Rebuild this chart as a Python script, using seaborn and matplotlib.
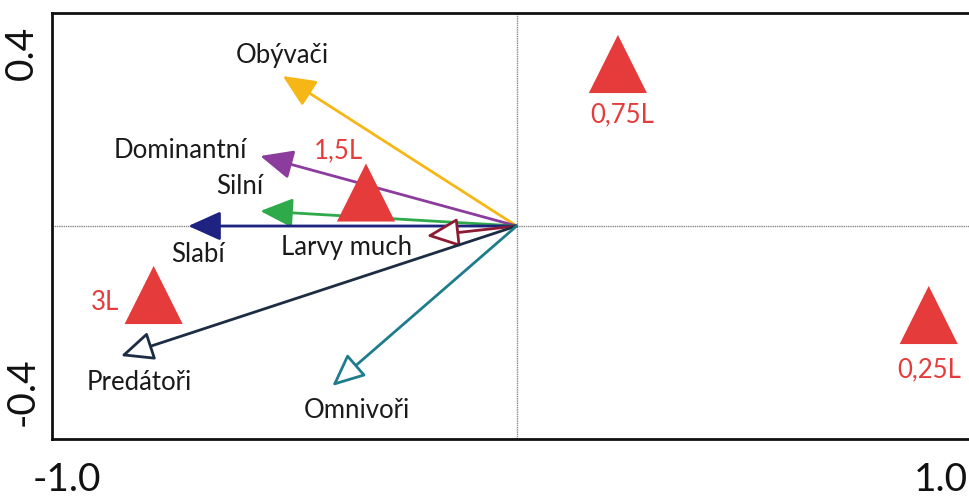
import matplotlib
matplotlib.use("Agg")
import matplotlib.pyplot as plt
import matplotlib.transforms as mtransforms
import seaborn as sns
import pandas as pd

# species-group vectors (arrow tips)
arrow_labels = ["Obývači", "Dominantní", "Silní", "Slabí", "Larvy much", "Predátoři", "Omnivoři"]
arrow_x = [-0.52, -0.57, -0.57, -0.73, -0.20, -0.88, -0.41]
arrow_y = [0.30, 0.14, 0.03, 0.0, -0.02, -0.26, -0.32]

# treatment centroids
treat_labels = ["1,5L", "3L", "0,75L", "0,25L"]
treat_x = [-0.335, -0.807, 0.225, 0.916]
treat_y = [0.067, -0.138, 0.324, -0.178]

arrow_colors = ["#F6B716", "#8B3C9C", "#2FAA4B", "#1E2382", "#8C1B33", "#1C2C42", "#1F7C8C"]
hollow = [False, False, False, False, True, True, True]
# label offsets in pixels from arrow tip: (dx, dy, ha)
arrow_text = [(0, 20, "center"), (-13, 5, "right"), (-21, 25, "center"), (10, -28, "center"),
              (-80, -12, "center"), (18, -27, "center"), (25, -24, "center")]
treat_text = [(-28, 42), (-49, -8), (4, -51), (0, -55)]

RED = "#E53B3B"

sns.set_theme(style="white")
plt.rcParams["font.family"] = ["Lato", "DejaVu Sans"]

fig = plt.figure(figsize=(9.7, 4.99), dpi=100)
ax = fig.add_axes([52 / 970, 60 / 499, 928 / 970, 426 / 499])

ax.axhline(0, color="#8a8a8a", lw=1.0, ls=(0, (1, 0.6)), zorder=1)
ax.axvline(0, color="#8a8a8a", lw=1.0, ls=(0, (1, 0.6)), zorder=1)

for lab, x, y, c, h, (dx, dy, ha) in zip(arrow_labels, arrow_x, arrow_y, arrow_colors, hollow, arrow_text):
    ax.annotate("", xy=(x, y), xytext=(0, 0),
                arrowprops=dict(arrowstyle="-|>,head_length=1.0,head_width=0.45",
                                mutation_scale=20, lw=2.0, ec=c,
                                fc="white" if h else c,
                                shrinkA=0, shrinkB=0),
                zorder=3)
    ax.annotate(lab, xy=(x, y), xytext=(dx, dy), textcoords="offset pixels",
                ha=ha, va="center", fontsize=18.5, color="#1a1a1a", zorder=5)

df = pd.DataFrame({"x": treat_x, "y": treat_y, "label": treat_labels})
sns.scatterplot(data=df, x="x", y="y", marker="^", s=1750, color=RED,
                edgecolor="none", ax=ax, zorder=4, legend=False)
for lab, x, y, (dx, dy) in zip(treat_labels, treat_x, treat_y, treat_text):
    ax.annotate(lab, xy=(x, y), xytext=(dx, dy), textcoords="offset pixels",
                ha="center", va="center", fontsize=18.5, color=RED, zorder=5)

ax.set_xlim(-1.033, 1.03)
ax.set_ylim(-0.426, 0.426)
ax.set_xlabel("")
ax.set_ylabel("")

ax.set_xticks([-1.0, -0.5, 0.0, 0.5, 1.0])
ax.set_xticklabels(["-1.0", "", "", "", "1.0"])
ax.set_yticks([-0.4, -0.3, -0.2, -0.1, 0.0, 0.1, 0.2, 0.3, 0.4])
ax.set_yticklabels(["-0.4", "", "", "", "", "", "", "", "0.4"])
ax.tick_params(axis="both", direction="inout", length=9, width=1.6, labelsize=28,
               color="#111111", labelcolor="#111111")
ax.tick_params(axis="x", pad=12)
ax.tick_params(axis="y", pad=4)
for t in ax.get_yticklabels():
    t.set_rotation(90)
    if t.get_text() == "0.4":
        t.set_va("top")
    elif t.get_text() == "-0.4":
        t.set_va("bottom")
# the right-hand "1.0" sits at the figure edge, keep it inside
for t in ax.get_xticklabels():
    if t.get_text() == "1.0":
        t.set_ha("right")
        t.set_transform(t.get_transform() +
                        mtransforms.ScaledTranslation(0.01, 0, fig.dpi_scale_trans))

for s in ax.spines.values():
    s.set_linewidth(2.0)
    s.set_color("#111111")

fig.savefig("out.png", dpi=100)
